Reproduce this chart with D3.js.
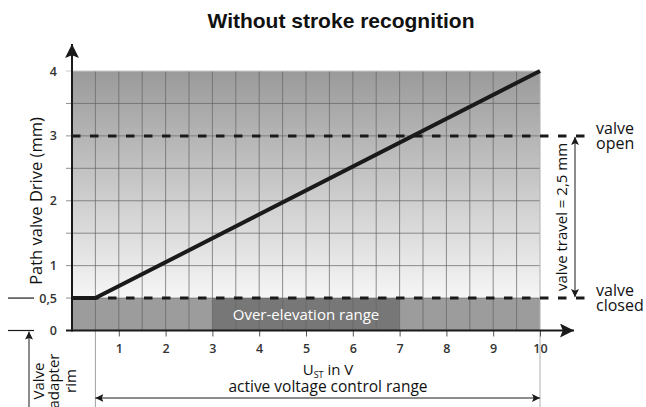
<!DOCTYPE html>
<html><head><meta charset="utf-8">
<script src="https://cdn.jsdelivr.net/npm/d3@7"></script>
<style>
html,body{margin:0;padding:0;background:#fff;}
svg{display:block;}
text{font-family:"Open Sans","Noto Sans",sans-serif;}
</style></head>
<body>
<script>
// ---- data ----
const title = "Without stroke recognition";
const xTickValues = [1,2,3,4,5,6,7,8,9,10];
const yTickValues = [0,0.5,1,2,3,4];
const yTickLabels = ["0","0,5","1","2","3","4"];
const gridX = [0.5,1,1.5,2,2.5,3,3.5,4,4.5,5,5.5,6,6.5,7,7.5,8,8.5,9,9.5];
const gridY = [0.5,1,1.5,2,2.5,3,3.5];
const curveU = [0, 0.5, 10];
const curvePath = [0.5, 0.5, 4];
const valveOpen = 3;
const valveClosed = 0.5;
const overElevation = [3, 7];
const activeRange = [0.5, 10];

const W = 646, H = 407;
const svg = d3.select("body").append("svg").attr("width", W).attr("height", H);
const x = d3.scaleLinear().domain([0,10]).range([72,540]);
const y = d3.scaleLinear().domain([0,4]).range([330.5,71]);

const defs = svg.append("defs");
const grad = defs.append("linearGradient").attr("id","bg").attr("gradientUnits","userSpaceOnUse")
  .attr("x1",0).attr("x2",0).attr("y1",y(4)).attr("y2",y(0.5));
grad.append("stop").attr("offset","0%").attr("stop-color","#9a9a9a");
grad.append("stop").attr("offset","100%").attr("stop-color","#f6f6f6");
function arrow(id, size){
  defs.append("marker").attr("id",id).attr("viewBox","0 0 10 10").attr("refX",10).attr("refY",5)
   .attr("markerWidth",size).attr("markerHeight",size).attr("markerUnits","userSpaceOnUse").attr("orient","auto-start-reverse")
   .append("path").attr("d","M0,0 L10,5 L0,10 L2,5 Z").attr("fill","#1a1a1a");
}
arrow("ah", 14); arrow("as", 8);

// Title
svg.append("text").attr("x",341).attr("y",28).attr("text-anchor","middle")
  .style("font-family","'Liberation Sans',Arial,sans-serif").style("font-weight","bold").style("font-size","21px")
  .attr("fill","#111").text(title);

// Backgrounds
svg.append("rect").attr("x",x(0)).attr("y",y(4)).attr("width",x(10)-x(0)).attr("height",y(0.5)-y(4)).attr("fill","url(#bg)");
svg.append("rect").attr("x",x(0)).attr("y",y(0.5)).attr("width",x(10)-x(0)).attr("height",y(0)-y(0.5)).attr("fill","#9c9c9c");
svg.append("rect").attr("x",x(overElevation[0])).attr("y",y(0.5)).attr("width",x(overElevation[1])-x(overElevation[0])).attr("height",y(0)-y(0.5)).attr("fill","#777");

// Grid
svg.selectAll(".gx").data(gridX).enter().append("line")
  .attr("x1",d=>x(d)).attr("x2",d=>x(d)).attr("y1",y(4)).attr("y2",y(0))
  .attr("stroke","#666").attr("stroke-width",0.9).attr("opacity",0.8);
svg.selectAll(".gy").data(gridY).enter().append("line")
  .attr("x1",x(0)-6).attr("x2",x(10)).attr("y1",d=>y(d)).attr("y2",d=>y(d))
  .attr("stroke","#666").attr("stroke-width",0.9).attr("opacity",0.8);
svg.append("line").attr("x1",x(0)-6).attr("x2",x(10)).attr("y1",y(4)).attr("y2",y(4)).attr("stroke","#c8c8c8");
svg.append("line").attr("x1",x(10)).attr("x2",x(10)).attr("y1",y(4)).attr("y2",H).attr("stroke","#b0b0b0");
svg.append("line").attr("x1",x(0.5)).attr("x2",x(0.5)).attr("y1",y(0)).attr("y2",H).attr("stroke","#a0a0a0");

// Over-elevation label
svg.append("text").attr("x",(x(overElevation[0])+x(overElevation[1]))/2).attr("y",320)
  .attr("text-anchor","middle").attr("fill","#fff").style("font-size","15px").text("Over-elevation range");

// Dashed lines
[valveOpen, valveClosed].forEach(v=>{
  svg.append("line").attr("x1",x(0)).attr("x2",590).attr("y1",y(v)).attr("y2",y(v))
    .attr("stroke","#1a1a1a").attr("stroke-width",3).attr("stroke-dasharray","8.5,9.5");
});

// Curve
const line = d3.line().x((d,i)=>x(curveU[i])).y(d=>y(d));
svg.append("path").datum(curvePath).attr("d",line).attr("fill","none")
  .attr("stroke","#1a1a1a").attr("stroke-width",4).attr("stroke-linejoin","round");

// Axes
const xAxis = d3.axisBottom(x).tickValues(xTickValues).tickSize(6).tickFormat(d3.format("d"));
const gx = svg.append("g").attr("transform",`translate(0,${y(0)})`).call(xAxis);
gx.select(".domain").remove();
gx.selectAll(".tick line").attr("stroke","#555");
gx.selectAll(".tick text").attr("dy","1.1em").style("font-size","12.5px").style("font-weight","600").attr("fill","#333")
  .style("font-family","'Open Sans',sans-serif");
svg.append("line").attr("x1",x(0)-6).attr("x2",574).attr("y1",y(0)).attr("y2",y(0))
  .attr("stroke","#1a1a1a").attr("stroke-width",2).attr("marker-end","url(#ah)");

const yAxis = d3.axisLeft(y).tickValues(yTickValues).tickSize(0).tickFormat((d,i)=>yTickLabels[i]);
const gy = svg.append("g").attr("transform",`translate(${x(0)-12},0)`).call(yAxis);
gy.select(".domain").remove();
gy.selectAll(".tick text").style("font-size","12.5px").style("font-weight","600").attr("fill","#333")
  .style("font-family","'Open Sans',sans-serif");
svg.append("line").attr("x1",x(0)).attr("x2",x(0)).attr("y1",y(0)+1).attr("y2",44)
  .attr("stroke","#1a1a1a").attr("stroke-width",2).attr("marker-end","url(#ah)");

// left reference lines
[valveClosed, 0].forEach(v=>{
  svg.append("line").attr("x1",8).attr("x2",34).attr("y1",y(v)).attr("y2",y(v)).attr("stroke","#1a1a1a").attr("stroke-width",1.2);
});

// Y title
svg.append("text").attr("transform",`translate(42,201) rotate(-90)`).attr("text-anchor","middle")
  .style("font-size","16.5px").attr("fill","#111").text("Path valve Drive (mm)");

// X titles
const xt = svg.append("text").attr("x",328).attr("y",375).attr("text-anchor","middle").style("font-size","15px").attr("fill","#111");
xt.append("tspan").text("U");
xt.append("tspan").attr("dy",3).style("font-size","9px").text("ST");
xt.append("tspan").attr("dy",-3).text(" in V");
svg.append("text").attr("x",328).attr("y",392).attr("text-anchor","middle").style("font-size","15.5px").attr("fill","#111")
  .text("active voltage control range");

// Active range arrow
svg.append("line").attr("x1",x(activeRange[0])).attr("x2",x(activeRange[1])).attr("y1",398).attr("y2",398)
  .attr("stroke","#1a1a1a").attr("stroke-width",1).attr("marker-start","url(#as)").attr("marker-end","url(#as)");

// Valve adapter rim
svg.append("line").attr("x1",29).attr("x2",29).attr("y1",H).attr("y2",y(0)+1)
  .attr("stroke","#1a1a1a").attr("stroke-width",1).attr("marker-end","url(#as)");
const rim = svg.append("text").attr("transform","translate(0,381) rotate(-90)").attr("text-anchor","middle")
  .style("font-size","15px").attr("fill","#111");
rim.append("tspan").attr("x",0).attr("y",44).text("Valve");
rim.append("tspan").attr("x",0).attr("y",59).text("adapter");
rim.append("tspan").attr("x",0).attr("y",76).text("rim");

// Valve travel
svg.append("line").attr("x1",575).attr("x2",575).attr("y1",y(valveOpen)+1).attr("y2",y(valveClosed)-1)
  .attr("stroke","#1a1a1a").attr("stroke-width",1).attr("marker-start","url(#as)").attr("marker-end","url(#as)");
svg.append("text").attr("transform",`translate(567,${(y(valveOpen)+y(valveClosed))/2}) rotate(-90)`)
  .attr("text-anchor","middle").style("font-size","15px").attr("fill","#111").text("valve travel = 2,5 mm");

// Valve open/closed labels
function twoLine(yb, a, b){
  const t = svg.append("text").style("font-size","16px").attr("fill","#111");
  t.append("tspan").attr("x",596).attr("y",yb).text(a);
  t.append("tspan").attr("x",596).attr("y",yb+15).text(b);
}
twoLine(y(valveOpen)-2, "valve", "open");
twoLine(y(valveClosed)-2, "valve", "closed");
</script>
</body></html>
